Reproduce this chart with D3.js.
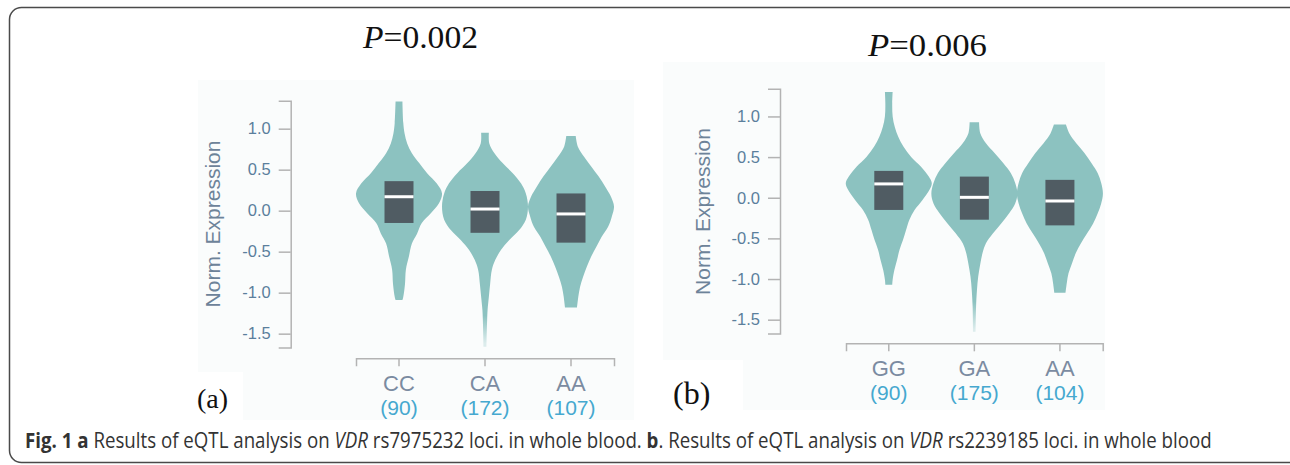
<!DOCTYPE html>
<html>
<head>
<meta charset="utf-8">
<script src="https://cdn.jsdelivr.net/npm/d3@7"></script>
<style>
  html, body { margin: 0; padding: 0; background: #ffffff; }
  svg { display: block; }
</style>
</head>
<body>
<svg id="chart" width="1290" height="465"></svg>
<script>
// ---------------- DATA ----------------
const genotypesA = ["CC", "CA", "AA"];
const countsA = ["(90)", "(172)", "(107)"];
const genotypesB = ["GG", "GA", "AA"];
const countsB = ["(90)", "(175)", "(104)"];
const yTickValues = [-1.5, -1.0, -0.5, 0.0, 0.5, 1.0];
const pLabels = ["0.002", "0.006"];
const panelLetters = ["(a)", "(b)"];

// box stats per genotype: [q1, median, q3]
const boxA = [[-0.15, 0.17, 0.36], [-0.27, 0.02, 0.24], [-0.39, -0.04, 0.21]];
const boxB = [[-0.15, 0.17, 0.33], [-0.27, 0.005, 0.26], [-0.34, -0.04, 0.22]];

// violin outlines: [expression value, relative density]
const violinA_CC = [[1.33,0.08],[1.07,0.10],[0.94,0.13],[0.82,0.19],[0.70,0.30],[0.58,0.47],[0.46,0.65],[0.33,0.88],[0.21,1.0],[0.09,0.93],[-0.03,0.74],[-0.15,0.53],[-0.28,0.42],[-0.40,0.30],[-0.56,0.23],[-0.72,0.16],[-0.89,0.14],[-1.05,0.10],[-1.09,0.08]];
const violinA_CA = [[0.95,0.09],[0.82,0.10],[0.70,0.22],[0.58,0.41],[0.46,0.64],[0.33,0.84],[0.21,0.95],[0.05,1.0],[-0.11,0.95],[-0.24,0.79],[-0.36,0.56],[-0.48,0.37],[-0.60,0.24],[-0.72,0.16],[-0.89,0.12],[-1.05,0.09],[-1.21,0.06],[-1.33,0.05],[-1.66,0.035]];
const violinA_AA = [[0.91,0.11],[0.78,0.16],[0.66,0.30],[0.54,0.47],[0.42,0.64],[0.29,0.80],[0.17,0.93],[0.05,1.0],[-0.07,0.95],[-0.20,0.86],[-0.32,0.71],[-0.44,0.59],[-0.56,0.47],[-0.68,0.37],[-0.81,0.28],[-0.93,0.21],[-1.05,0.17],[-1.18,0.14]];
const violinB_GG = [[1.30,0.09],[1.16,0.08],[1.00,0.09],[0.87,0.14],[0.75,0.22],[0.63,0.34],[0.50,0.52],[0.38,0.75],[0.26,0.93],[0.18,1.0],[0.10,0.95],[-0.03,0.78],[-0.15,0.60],[-0.27,0.48],[-0.40,0.40],[-0.52,0.33],[-0.64,0.25],[-0.77,0.19],[-0.89,0.13],[-1.01,0.09],[-1.07,0.08]];
const violinB_GA = [[0.93,0.11],[0.79,0.14],[0.67,0.27],[0.55,0.47],[0.42,0.68],[0.30,0.85],[0.18,0.95],[0.05,1.0],[-0.07,0.95],[-0.19,0.81],[-0.32,0.62],[-0.44,0.43],[-0.56,0.27],[-0.68,0.19],[-0.81,0.14],[-0.97,0.09],[-1.14,0.06],[-1.34,0.04],[-1.65,0.03]];
const violinB_AA = [[0.90,0.14],[0.79,0.22],[0.67,0.38],[0.55,0.57],[0.42,0.74],[0.30,0.88],[0.18,0.96],[0.05,1.0],[-0.07,0.96],[-0.19,0.88],[-0.32,0.77],[-0.44,0.63],[-0.56,0.49],[-0.68,0.37],[-0.81,0.28],[-0.93,0.20],[-1.05,0.16],[-1.17,0.13]];

const violinsA = [violinA_CC, violinA_CA, violinA_AA];
const violinsB = [violinB_GG, violinB_GA, violinB_AA];

const captionParts = [
  {t: "Fig. 1 a", w: "bold", s: "normal"},
  {t: " Results of eQTL analysis on ", w: "normal", s: "normal"},
  {t: "VDR", w: "normal", s: "italic"},
  {t: " rs7975232 loci. in whole blood. ", w: "normal", s: "normal"},
  {t: "b", w: "bold", s: "normal"},
  {t: ". Results of eQTL analysis on ", w: "normal", s: "normal"},
  {t: "VDR", w: "normal", s: "italic"},
  {t: " rs2239185 loci. in whole blood", w: "normal", s: "normal"}
];

// ---------------- STYLE ----------------
const violinFill = "#8cc2c0";
const boxFill = "#505c63";
const axisColor = "#b3b3b3";
const tickLabelColor = "#5b7f9c";
const titleColor = "#6d8399";
const genoColor = "#7b8ba1";
const countColor = "#45a8cf";
const bgColor = "#fafcfc";

const svg = d3.select("#chart");
const defs = svg.append("defs");

// frame
svg.append("rect")
  .attr("x", 9.5).attr("y", 7.5)
  .attr("width", 1300).attr("height", 455)
  .attr("rx", 12).attr("ry", 12)
  .attr("fill", "none").attr("stroke", "#4a4a4a").attr("stroke-width", 1.5);

// panel backgrounds (faint screenshot areas)
svg.append("rect").attr("x", 198).attr("y", 80).attr("width", 436).attr("height", 340).attr("fill", bgColor);
svg.append("rect").attr("x", 150).attr("y", 372).attr("width", 93).attr("height", 50).attr("fill", "#ffffff");
svg.append("rect").attr("x", 663).attr("y", 62).attr("width", 442).attr("height", 348).attr("fill", bgColor);
svg.append("rect").attr("x", 663).attr("y", 360).attr("width", 80).attr("height", 52).attr("fill", "#ffffff");

function drawPanel(cfg) {
  const g = svg.append("g");
  const y = d3.scaleLinear().domain([-1.67, 1.34]).range(cfg.yRange);
  const x = d3.scaleBand().domain(cfg.genotypes).range(cfg.xRange).padding(0);
  const w = d3.scaleLinear().domain([0, 1]).range([0, 43]);

  // gradient for faded tails
  const gid = "fade" + cfg.id;
  const grad = defs.append("linearGradient")
    .attr("id", gid).attr("gradientUnits", "userSpaceOnUse")
    .attr("x1", 0).attr("x2", 0).attr("y1", y(-1.28)).attr("y2", y(-1.62));
  grad.append("stop").attr("offset", 0).attr("stop-color", violinFill);
  grad.append("stop").attr("offset", 1).attr("stop-color", "#dcecec");

  // y axis
  const yAxis = d3.axisLeft(y).tickValues(yTickValues)
    .tickFormat(d => d.toFixed(1)).tickSize(12).tickPadding(8);
  const ya = g.append("g").attr("transform", `translate(${cfg.yAxisX},0)`).call(yAxis);
  ya.select(".domain").attr("stroke", axisColor).attr("stroke-width", 1.5);
  ya.selectAll(".tick line").attr("stroke", axisColor).attr("stroke-width", 1.5);
  ya.selectAll(".tick text")
    .attr("fill", tickLabelColor)
    .style("font-family", "'Liberation Sans', Arial, sans-serif")
    .style("font-size", "16.5px");

  // y title
  g.append("text")
    .attr("transform", `translate(${cfg.titleX},${cfg.titleY}) rotate(-90)`)
    .attr("text-anchor", "middle").attr("dominant-baseline", "central")
    .attr("fill", titleColor)
    .style("font-family", "'Liberation Sans', Arial, sans-serif")
    .style("font-size", "21px")
    .text("Norm. Expression");

  // x axis
  const xAxis = d3.axisBottom(x).tickSize(8).tickFormat("");
  const xa = g.append("g").attr("transform", `translate(0,${cfg.xAxisY})`).call(xAxis);
  xa.select(".domain").attr("stroke", axisColor).attr("stroke-width", 1.5);
  xa.selectAll(".tick line").attr("stroke", axisColor).attr("stroke-width", 1.5);

  const cx = d => x(d) + x.bandwidth() / 2;
  g.selectAll(".geno").data(cfg.genotypes).join("text")
    .attr("x", d => cx(d)).attr("y", cfg.xAxisY + 25)
    .attr("text-anchor", "middle").attr("dominant-baseline", "central")
    .attr("fill", genoColor)
    .style("font-family", "'Liberation Sans', Arial, sans-serif")
    .style("font-size", "22px")
    .text(d => d);
  g.selectAll(".count").data(cfg.genotypes).join("text")
    .attr("x", d => cx(d)).attr("y", cfg.xAxisY + 49)
    .attr("text-anchor", "middle").attr("dominant-baseline", "central")
    .attr("fill", countColor)
    .style("font-family", "'Liberation Sans', Arial, sans-serif")
    .style("font-size", "21px")
    .text((d, i) => cfg.counts[i]);

  // violins
  cfg.genotypes.forEach((geno, i) => {
    const c = cx(geno);
    const area = d3.area()
      .y(d => y(d[0]))
      .x0(d => c - w(d[1]))
      .x1(d => c + w(d[1]))
      .curve(d3.curveCatmullRom.alpha(0.5));
    g.append("path").datum(cfg.violins[i])
      .attr("d", area)
      .attr("fill", `url(#${gid})`);

    const b = cfg.boxes[i];
    g.append("rect")
      .attr("x", c - 14.5).attr("width", 29)
      .attr("y", y(b[2])).attr("height", y(b[0]) - y(b[2]))
      .attr("fill", boxFill);
    g.append("line")
      .attr("x1", c - 14.5).attr("x2", c + 14.5)
      .attr("y1", y(b[1])).attr("y2", y(b[1]))
      .attr("stroke", "#ffffff").attr("stroke-width", 3);
  });

  // P value title
  const pt = svg.append("text")
    .attr("x", cfg.pX).attr("y", cfg.pY)
    .attr("textLength", cfg.pW).attr("lengthAdjust", "spacingAndGlyphs")
    .style("font-family", "'Liberation Serif', 'Times New Roman', serif")
    .style("font-size", "32px")
    .attr("fill", "#111");
  pt.append("tspan").style("font-style", "italic").text("P");
  pt.append("tspan").text("=" + cfg.p);

  // panel letter
  svg.append("text")
    .attr("x", cfg.letterX).attr("y", cfg.letterY)
    .style("font-family", "'Liberation Serif', 'Times New Roman', serif")
    .style("font-size", cfg.letterSize + "px")
    .attr("fill", "#111")
    .text(cfg.letter);
}

drawPanel({
  id: "A", genotypes: genotypesA, counts: countsA, violins: violinsA, boxes: boxA,
  yRange: [347.6, 100.8], xRange: [356, 614], yAxisX: 290.7, xAxisY: 358.3,
  titleX: 212, titleY: 224, p: pLabels[0], pX: 363, pY: 48, pW: 115,
  letter: panelLetters[0], letterX: 197, letterY: 408, letterSize: 28
});
drawPanel({
  id: "B", genotypes: genotypesB, counts: countsB, violins: violinsB, boxes: boxB,
  yRange: [333.5, 88.8], xRange: [846, 1102.7], yAxisX: 780, xAxisY: 343.3,
  titleX: 702, titleY: 211.5, p: pLabels[1], pX: 868, pY: 56, pW: 119,
  letter: panelLetters[1], letterX: 673, letterY: 404, letterSize: 32
});

// caption: natural width measured, then scaled horizontally to span the reference width
const capG = svg.append("g");
const cap = capG.append("text")
  .attr("x", 0).attr("y", 0)
  .style("font-family", "'Open Sans', 'Noto Sans', sans-serif")
  .style("font-size", "21px")
  .attr("fill", "#333");
captionParts.forEach(p => {
  cap.append("tspan").style("font-weight", p.w).style("font-style", p.s).text(p.t);
});
const natural = cap.node().getComputedTextLength();
capG.attr("transform", `translate(25,448) scale(${1187 / natural},1)`);
</script>
</body>
</html>
